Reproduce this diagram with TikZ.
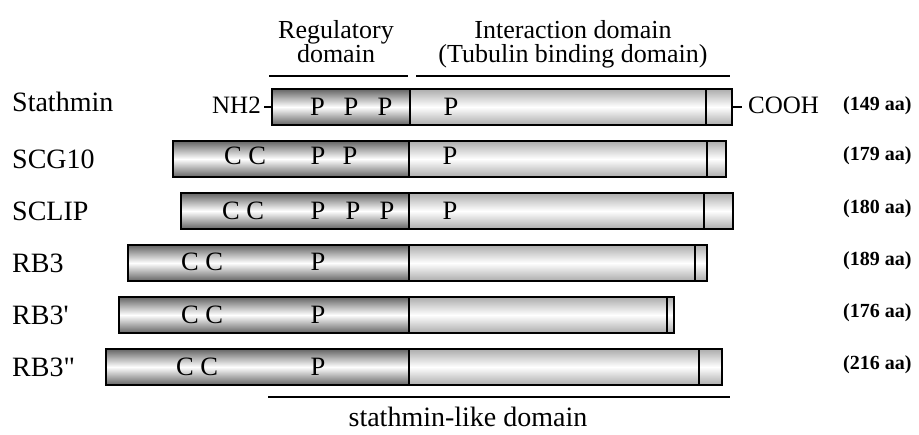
\documentclass[tikz,border=0pt]{standalone}
\usepackage{fontspec}
\setmainfont{Liberation Serif}
\newfontfamily\rawserif{Liberation Serif}[Ligatures=TeXOff]
\definecolor{regdark}{RGB}{100,100,100}
\definecolor{intdark}{RGB}{172,172,172}
\tikzset{
  seg/.style={draw=black, line width=1.8pt, inner sep=0pt, outer sep=0pt, minimum height=36pt},
  regseg/.style={seg, top color=regdark, bottom color=regdark, middle color=white},
  intseg/.style={seg, top color=intdark, bottom color=intdark, middle color=white},
  namelbl/.style={anchor=base west, inner sep=0pt, font=\rawserif\fontsize{28}{30}\selectfont},
  inlbl/.style={anchor=base, inner sep=0pt, font=\fontsize{26.5}{28}\selectfont},
  endlbl/.style={inner sep=0pt, font=\fontsize{25}{27}\selectfont},
  aalbl/.style={anchor=base west, inner sep=0pt, font=\fontsize{20}{22}\selectfont\bfseries},
  hdlbl/.style={anchor=base, inner sep=0pt, font=\fontsize{26}{28}\selectfont},
  domline/.style={line width=1.8pt}
}
\newcommand\barrow[6]{%
  \pgfmathsetmacro\wa{#4-#3}\pgfmathsetmacro\wb{#5-#4}\pgfmathsetmacro\wc{#6-#5}%
  \node[regseg, minimum width=\wa pt, anchor=west] (#1r) at (#3,#2) {};
  \node[intseg, minimum width=\wb pt, anchor=west] (#1i) at (#4,#2) {};
  \node[intseg, minimum width=\wc pt, anchor=west] (#1t) at (#5,#2) {};
}
\begin{document}
\begin{tikzpicture}[x=1pt, y=-1pt]
\useasboundingbox (0,0) rectangle (919,435);

% header
\node[hdlbl] (hreg1) at (336,39) {Regulatory};
\node[hdlbl] (hreg2) at (336,63) {domain};
\node[hdlbl] (hint1) at (573,39) {Interaction domain};
\node[hdlbl] (hint2) at (573,63) {(Tubulin binding domain)};
\coordinate (rl1) at (269,76); \coordinate (rl2) at (408,76);
\coordinate (il1) at (416,76); \coordinate (il2) at (730,76);
\draw[domline] (rl1) -- (rl2);
\draw[domline] (il1) -- (il2);

% bars
\barrow{s1}{107}{272}{410}{706}{732}
\barrow{s2}{159}{173}{409}{707}{726}
\barrow{s3}{211}{181}{409}{704}{733}
\barrow{s4}{263}{128}{409}{695}{707}
\barrow{s5}{315}{119}{409}{667}{674}
\barrow{s6}{367}{106}{409}{699}{722}

% names
\node[namelbl] (n1) at (12,112) {Stathmin};
\node[namelbl] (n2) at (12,168.5) {SCG10};
\node[namelbl] (n3) at (12,220.5) {SCLIP};
\node[namelbl] (n4) at (12,272.5) {RB3};
\node[namelbl] (n5) at (12,324.5) {RB3'};
\node[namelbl] (n6) at (12,376.5) {RB3"};

% aa labels
\node[aalbl] (a1) at (843,111) {(149 aa)};
\node[aalbl] (a2) at (843,161) {(179 aa)};
\node[aalbl] (a3) at (843,214) {(180 aa)};
\node[aalbl] (a4) at (843,266) {(189 aa)};
\node[aalbl] (a5) at (843,318) {(176 aa)};
\node[aalbl] (a6) at (843,370) {(216 aa)};

% termini of stathmin
\node[endlbl, anchor=base east] (nh2) at (261,114) {NH2};
\node[endlbl, anchor=base west] (cooh) at (748,114) {COOH};
\coordinate (nhd) at (264,107);
\coordinate (cod) at (742,107);
\draw[domline] (nhd) -- (s1r.west);
\draw[domline] (s1t.east) -- (cod);

% residues: Stathmin
\node[inlbl] (p11) at (317.5,115.5) {P};
\node[inlbl] (p12) at (351,115.5) {P};
\node[inlbl] (p13) at (385,115.5) {P};
\node[inlbl] (p14) at (451,115.5) {P};
% SCG10
\node[inlbl] (c21) at (245,165) {C C};
\node[inlbl] (p21) at (318,165) {P};
\node[inlbl] (p22) at (350,165) {P};
\node[inlbl] (p23) at (450,165) {P};
% SCLIP
\node[inlbl] (c31) at (243,219.5) {C C};
\node[inlbl] (p31) at (318,219.5) {P};
\node[inlbl] (p32) at (353,219.5) {P};
\node[inlbl] (p33) at (387,219.5) {P};
\node[inlbl] (p34) at (450,219.5) {P};
% RB3
\node[inlbl] (c41) at (202,270.5) {C C};
\node[inlbl] (p41) at (318,270.5) {P};
% RB3'
\node[inlbl] (c51) at (202,323.5) {C C};
\node[inlbl] (p51) at (318,323.5) {P};
% RB3''
\node[inlbl] (c61) at (197,375.5) {C C};
\node[inlbl] (p61) at (318,375.5) {P};

% bottom
\coordinate (bl1) at (268,397); \coordinate (bl2) at (730,397);
\draw[domline] (bl1) -- (bl2);
\node[namelbl, anchor=base] (sld) at (468,427) {stathmin-like domain};
\end{tikzpicture}
\end{document}
